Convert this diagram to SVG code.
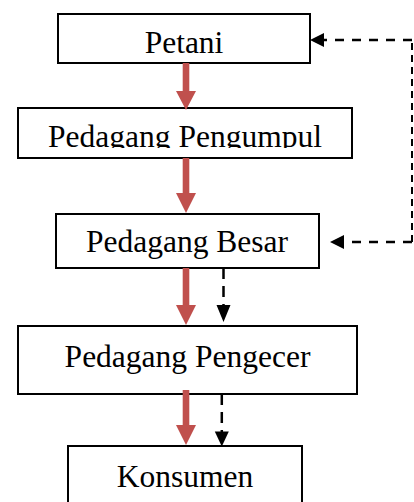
<svg xmlns="http://www.w3.org/2000/svg" width="414" height="502" viewBox="0 0 414 502">
<style>
.box{fill:#fff;stroke:#000;stroke-width:2}
.lbl{font-family:"Liberation Serif","Times New Roman",serif;font-size:31.5px;fill:#000;text-anchor:middle}
.red{fill:#c0504d}
.dash{fill:none;stroke:#000;stroke-width:2.5}
.h{stroke-dasharray:9 8}
.v{stroke-dasharray:7 5;stroke-width:2}
.s{stroke-dasharray:11 7}
.head{fill:#000}
</style>
<defs>
<clipPath id="clipPP"><rect x="18" y="108" width="334" height="40"/></clipPath>
</defs>
<rect width="414" height="502" fill="#fff"/>
<g id="petani">
<rect class="box" x="58" y="14" width="252" height="49"/>
<text class="lbl" x="184" y="53">Petani</text>
</g>
<g id="pedagang-pengumpul">
<rect class="box" x="18" y="108" width="334" height="50"/>
<text class="lbl" x="185" y="147" clip-path="url(#clipPP)">Pedagang Pengumpul</text>
</g>
<g id="pedagang-besar">
<rect class="box" x="56" y="214" width="263" height="54"/>
<text class="lbl" x="187" y="252">Pedagang Besar</text>
</g>
<g id="pedagang-pengecer">
<rect class="box" x="18" y="326" width="339" height="68"/>
<text class="lbl" x="187.5" y="367">Pedagang Pengecer</text>
</g>
<g id="konsumen">
<rect class="box" x="68" y="446" width="234" height="70"/>
<text class="lbl" x="185" y="487">Konsumen</text>
</g>
<g id="connectors">
<polygon class="red" points="182.7,63 189.3,63 189.3,91 196,91 186,110 176,91 182.7,91"/>
<polygon class="red" points="182.7,158 189.3,158 189.3,193 196,193 186,213 176,193 182.7,193"/>
<polygon class="red" points="182.7,268 189.3,268 189.3,305 196,305 186,325 176,305 182.7,305"/>
<polygon class="red" points="182.7,390 189.3,390 189.3,425 196,425 186,445 176,425 182.7,425"/>
<path class="dash s" d="M223.5,268 V305"/>
<polygon class="head" points="216.5,305 230.5,305 223.5,322"/>
<path class="dash s" d="M221.8,394 V432"/>
<polygon class="head" points="214.8,431.5 228.8,431.5 221.8,446.5"/>
<path class="dash h" d="M412,242 H343"/>
<path class="dash h" d="M412,40 H324"/>
<path class="dash v" d="M412,242 V40"/>
<polygon class="head" points="330,242 344,235 344,249"/>
<polygon class="head" points="310,40 324,33 324,47"/>
</g>
</svg>
